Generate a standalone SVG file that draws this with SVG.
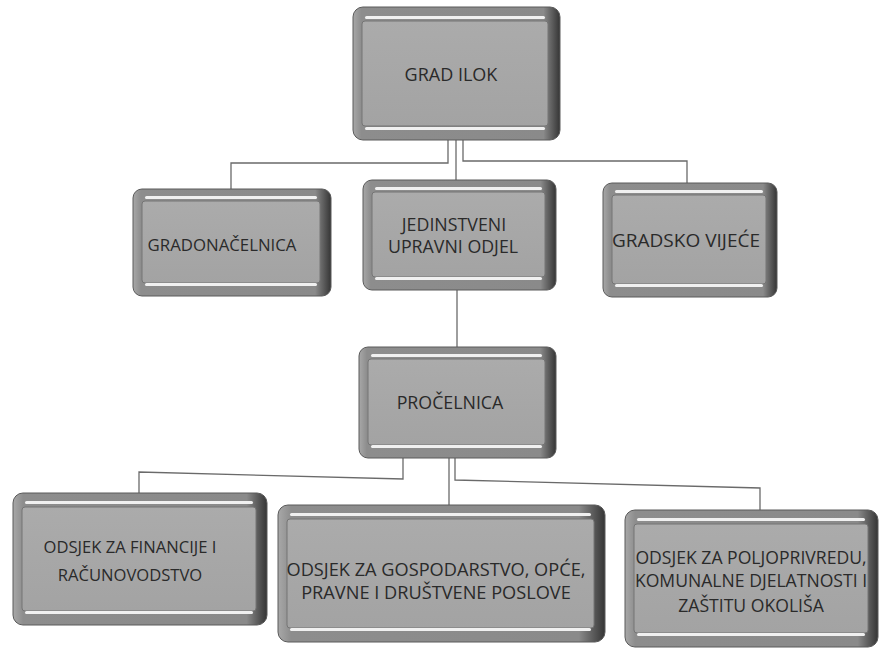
<svg xmlns="http://www.w3.org/2000/svg" width="879" height="652" viewBox="0 0 879 652">
<defs>
<linearGradient id="edge" x1="0" y1="0" x2="1" y2="0">
<stop offset="0" stop-color="#a8a8a8"/>
<stop offset="0.04" stop-color="#8d8d8d"/>
<stop offset="0.92" stop-color="#8a8a8a"/>
<stop offset="1" stop-color="#353535"/>
</linearGradient>
<linearGradient id="face" x1="0" y1="0" x2="0" y2="1">
<stop offset="0" stop-color="#ababab"/>
<stop offset="1" stop-color="#a3a3a3"/>
</linearGradient>
</defs>
<style>
.outer{fill:url(#edge);stroke:#5a5a5a;stroke-width:1}
.inner{fill:url(#face);stroke:#757575;stroke-width:1}
.hl{fill:#f0f0f0}
.conn{fill:none;stroke:#6a6a6a;stroke-width:1.3}
text{font-family:"Open Sans","Liberation Sans",sans-serif;font-size:17.8px;fill:#2a2a2a;text-anchor:middle}
</style>
<rect width="879" height="652" fill="#ffffff"/>
<g id="connectors">
<path class="conn" d="M448,140 V163 H231 V189"/>
<path class="conn" d="M463,140 V161 H687 V184"/>
<path class="conn" d="M456,140 V181"/>
<path class="conn" d="M457,290 V347"/>
<path class="conn" d="M403,458 V479 L139,472 V494"/>
<path class="conn" d="M455,458 V480 L760,488 V511"/>
<path class="conn" d="M449,458 V506"/>
</g>
<g id="grad-ilok">
<rect class="outer" x="353" y="7" width="207" height="133" rx="10"/>
<rect class="inner" x="362" y="21" width="186" height="105" rx="3"/>
<rect class="hl" x="365" y="16" width="180" height="3" rx="1.5"/>
<rect class="hl" x="365" y="127" width="180" height="3" rx="1.5"/>
<text x="451" y="81" style="font-size:18px">GRAD ILOK</text>
</g>
<g id="gradonacelnica">
<rect class="outer" x="133" y="189" width="198" height="107" rx="9"/>
<rect class="inner" x="142" y="201" width="178" height="82" rx="3"/>
<rect class="hl" x="145" y="196" width="172" height="3" rx="1.5"/>
<rect class="hl" x="145" y="283" width="172" height="3" rx="1.5"/>
<text x="222" y="251" style="font-size:16.8px">GRADONAČELNICA</text>
</g>
<g id="jedinstveni-upravni-odjel">
<rect class="outer" x="363" y="180" width="193" height="110" rx="9"/>
<rect class="inner" x="372" y="192" width="173" height="85" rx="3"/>
<rect class="hl" x="375" y="187" width="167" height="3" rx="1.5"/>
<rect class="hl" x="375" y="277" width="167" height="3" rx="1.5"/>
<text x="454" y="231">JEDINSTVENI</text>
<text x="453" y="253">UPRAVNI ODJEL</text>
</g>
<g id="gradsko-vijece">
<rect class="outer" x="603" y="183" width="174" height="114" rx="9"/>
<rect class="inner" x="612" y="195" width="154" height="89" rx="3"/>
<rect class="hl" x="615" y="190" width="148" height="3" rx="1.5"/>
<rect class="hl" x="615" y="284" width="148" height="3" rx="1.5"/>
<text x="686" y="247" style="font-size:19px">GRADSKO VIJEĆE</text>
</g>
<g id="procelnica">
<rect class="outer" x="359" y="347" width="197" height="111" rx="9"/>
<rect class="inner" x="368" y="359" width="177" height="86" rx="3"/>
<rect class="hl" x="371" y="354" width="171" height="3" rx="1.5"/>
<rect class="hl" x="371" y="445" width="171" height="3" rx="1.5"/>
<text x="450" y="409">PROČELNICA</text>
</g>
<g id="odsjek-financije">
<rect class="outer" x="13" y="493" width="254" height="132" rx="10"/>
<rect class="inner" x="22" y="507" width="234" height="104" rx="3"/>
<rect class="hl" x="25" y="501" width="228" height="3" rx="1.5"/>
<rect class="hl" x="25" y="611" width="228" height="3" rx="1.5"/>
<text x="130" y="553" style="font-size:16.6px">ODSJEK ZA FINANCIJE I</text>
<text x="130" y="581" style="font-size:16.6px">RAČUNOVODSTVO</text>
</g>
<g id="odsjek-gospodarstvo">
<rect class="outer" x="278" y="505" width="327" height="137" rx="10"/>
<rect class="inner" x="287" y="519" width="307" height="109" rx="3"/>
<rect class="hl" x="290" y="513" width="301" height="3" rx="1.5"/>
<rect class="hl" x="290" y="628" width="301" height="3" rx="1.5"/>
<text x="436" y="576" style="font-size:18.2px">ODSJEK ZA GOSPODARSTVO, OPĆE,</text>
<text x="436" y="599" style="font-size:18.2px">PRAVNE I DRUŠTVENE POSLOVE</text>
</g>
<g id="odsjek-poljoprivreda">
<rect class="outer" x="625" y="510" width="253" height="137" rx="10"/>
<rect class="inner" x="634" y="524" width="234" height="109" rx="3"/>
<rect class="hl" x="637" y="518" width="228" height="3" rx="1.5"/>
<rect class="hl" x="637" y="633" width="228" height="3" rx="1.5"/>
<text x="751" y="564" style="font-size:17.6px">ODSJEK ZA POLJOPRIVREDU,</text>
<text x="751" y="587" style="font-size:17.6px">KOMUNALNE DJELATNOSTI I</text>
<text x="751" y="612" style="font-size:17.6px">ZAŠTITU OKOLIŠA</text>
</g>
</svg>
